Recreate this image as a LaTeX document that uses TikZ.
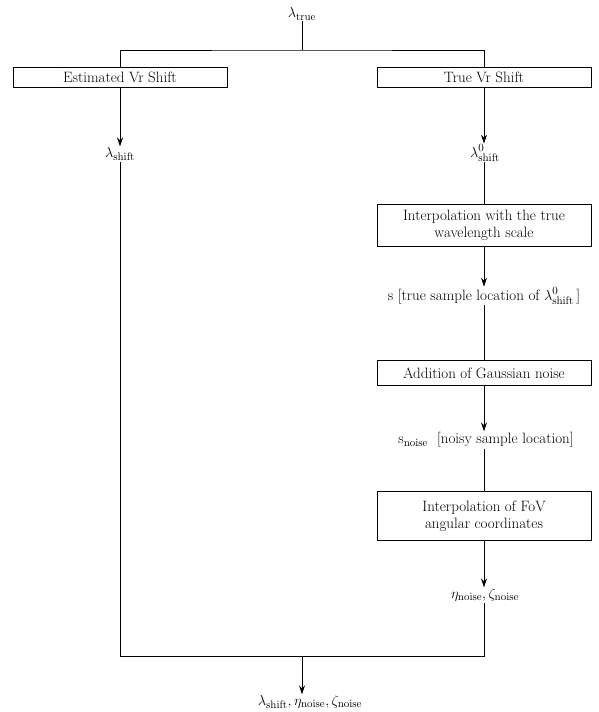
\documentclass[tikz,border=0pt]{standalone}
\usetikzlibrary{arrows.meta,positioning}
\begin{document}
\begin{tikzpicture}[x=1pt,y=-1pt,
  every node/.style={font=\fontsize{15}{17}\selectfont},
  box/.style={draw,line width=0.8pt,minimum width=214pt,align=center,inner sep=2pt},
  lbl/.style={inner sep=1pt},
  line/.style={line width=0.8pt},
  arr/.style={line width=0.8pt,-{Stealth[length=9pt,width=6pt]}}]
\useasboundingbox (0,0) rectangle (599,712);
\node[lbl] (ltrue) at (302,14) {$\lambda_{\mathrm{true}}$};
\coordinate (jt) at (302,50);
\node[box,minimum height=20pt] (est) at (120,77) {Estimated Vr Shift};
\node[box,minimum height=20pt] (truev) at (484,77) {True Vr Shift};
\node[lbl] (lshift) at (120,154) {$\lambda_{\mathrm{shift}}$};
\node[lbl] (l0) at (485,153) {$\lambda^{0}_{\mathrm{shift}}$};
\node[box,minimum height=42pt] (interp) at (484,225) {Interpolation with the true\\wavelength scale};
\node[lbl] (s) at (484,296) {s [true sample location of $\lambda^{0}_{\mathrm{shift}}$\,]};
\node[box,minimum height=25pt] (addn) at (484,373) {Addition of Gaussian noise};
\node[lbl] (sn) at (486,440) {s$_{\mathrm{noise}}$\ \ [noisy sample location]};
\node[box,minimum height=49pt] (fov) at (484,516) {Interpolation of FoV\\angular coordinates};
\node[lbl] (eta) at (485,595) {$\eta_{\mathrm{noise}},\zeta_{\mathrm{noise}}$};
\coordinate (jb) at (302,656);
\node[lbl] (out) at (310,702) {$\lambda_{\mathrm{shift}},\eta_{\mathrm{noise}},\zeta_{\mathrm{noise}}$};
\draw[line] (ltrue) -- (jt);
\draw[line] (est.north) |- (jt) -| (truev.north);
\draw[arr] (est.south) -- (lshift.north);
\draw[arr] (truev.south) -- (truev.south |- l0.north);
\draw[line] (l0.south -| truev.south) -- (interp.north);
\draw[arr] (interp.south) -- (interp.south |- s.north);
\draw[line] (interp.south |- s.south) -- (addn.north);
\draw[arr] (addn.south) -- (addn.south |- sn.north);
\draw[line] (addn.south |- sn.south) -- (fov.north);
\draw[arr] (fov.south) -- (fov.south |- eta.north);
\draw[line] (lshift.south) -- (lshift.south |- jb) -- (fov.south |- jb) -- (fov.south |- eta.south);
\draw[arr] (jb) -- (jb |- out.north);
\end{tikzpicture}
\end{document}
